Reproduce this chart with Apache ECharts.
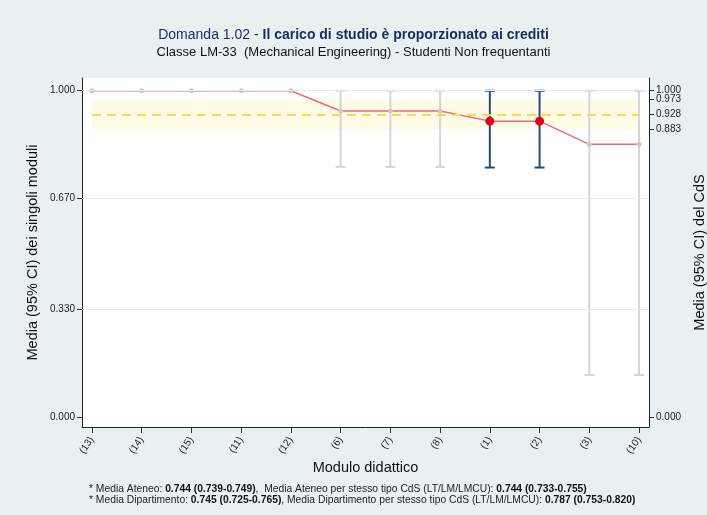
<!DOCTYPE html>
<html>
<head>
<meta charset="utf-8">
<script src="https://cdn.jsdelivr.net/npm/echarts@6/dist/echarts.min.js"></script>
<style>
  html, body { margin: 0; padding: 0; background: #e8f0f2; }
  #chart { width: 707px; height: 515px; }
</style>
</head>
<body>
<div id="chart"></div>
<script>
// Moduli didattici (ordine di visualizzazione)
const moduli = ['(13)', '(14)', '(15)', '(11)', '(12)', '(6)', '(7)', '(8)', '(1)', '(2)', '(3)', '(10)'];
// Media del singolo modulo e intervallo di confidenza al 95%
const medie  = [1.000, 1.000, 1.000, 1.000, 1.000, 0.938, 0.938, 0.938, 0.907, 0.907, 0.836, 0.836];
const ciLow  = [1.000, 1.000, 1.000, 1.000, 1.000, 0.767, 0.767, 0.767, 0.765, 0.765, 0.130, 0.130];
const ciHigh = [1.000, 1.000, 1.000, 1.000, 1.000, 1.000, 1.000, 1.000, 1.000, 1.000, 1.000, 1.000];
// Moduli con differenza significativa rispetto al CdS
const significativo = [false, false, false, false, false, false, false, false, true, true, false, false];
// Media del CdS e relativo intervallo
const cdsMedia = 0.928;
const cdsLow = 0.883;
const cdsHigh = 0.973;
// Valori delle tacche sugli assi
const tickSinistra = [0, 0.33, 0.67, 1];
const tickDestra = [0, 0.883, 0.928, 0.973, 1];
const griglia = [0.33, 0.67, 1];
const indici = moduli.map((m, i) => i);

// Le etichette 0.973 e 1.000 sono molto vicine: 0.973 va su un asse destro a parte
const tickDestraA = tickDestra.filter(v => v !== cdsHigh);
const tickDestraB = tickDestra.filter(v => v === cdsHigh);

const FONT = 'Liberation Sans, Arial, sans-serif';
const chart = echarts.init(document.getElementById('chart'), null, { renderer: 'canvas' });

const yComune = {
  type: 'value',
  min: -0.029,
  max: 1.039,
  splitLine: { show: false },
  axisLine: { show: true, onZero: false, lineStyle: { color: '#222', width: 1 } },
  nameLocation: 'middle',
  nameRotate: 90,
  nameMoveOverlap: false,
  nameTextStyle: { fontFamily: FONT, fontSize: 14.5, color: '#111' }
};

const tacche = valori => ({ show: true, length: 5, customValues: valori, lineStyle: { color: '#333' } });
const etichetteY = valori => ({
  customValues: valori,
  margin: 7,
  hideOverlap: false,
  showMinLabel: true,
  showMaxLabel: true,
  fontFamily: FONT, fontSize: 10, color: '#222',
  formatter: v => v.toFixed(3)
});

chart.setOption({
  backgroundColor: '#e8f0f2',
  animation: false,
  title: [
    {
      text: '{n|Domanda 1.02 - }{b|Il carico di studio è proporzionato ai crediti}',
      subtext: 'Classe LM-33  (Mechanical Engineering) - Studenti Non frequentanti',
      left: 'center',
      top: 23,
      itemGap: 4,
      textStyle: {
        fontWeight: 'normal',
        rich: {
          n: { fontFamily: FONT, fontSize: 14, fontWeight: 'normal', color: '#1d2a5c' },
          b: { fontFamily: FONT, fontSize: 14, fontWeight: 'bold', color: '#1d2a5c' }
        }
      },
      subtextStyle: { fontFamily: FONT, fontSize: 13, color: '#111' }
    },
    {
      text: '* Media Ateneo: {b|0.744 (0.739-0.749)},  Media Ateneo per stesso tipo CdS (LT/LM/LMCU): {b|0.744 (0.733-0.755)}',
      left: 84,
      top: 479,
      textStyle: {
        fontFamily: FONT, fontSize: 10.3, fontWeight: 'normal', color: '#222',
        rich: { b: { fontFamily: FONT, fontSize: 10.3, fontWeight: 'bold', color: '#111' } }
      }
    },
    {
      text: '* Media Dipartimento: {b|0.745 (0.725-0.765)}, Media Dipartimento per stesso tipo CdS (LT/LM/LMCU): {b|0.787 (0.753-0.820)}',
      left: 84,
      top: 490,
      textStyle: {
        fontFamily: FONT, fontSize: 10.3, fontWeight: 'normal', color: '#222',
        rich: { b: { fontFamily: FONT, fontSize: 10.3, fontWeight: 'bold', color: '#111' } }
      }
    }
  ],
  grid: {
    left: 82, right: 58, top: 78, bottom: 88,
    containLabel: false,
    outerBoundsMode: 'none',
    show: true, backgroundColor: '#ffffff', borderWidth: 0
  },
  xAxis: {
    type: 'value',
    min: -0.2,
    max: 11.2,
    name: 'Modulo didattico',
    nameLocation: 'middle',
    nameGap: 33,
    nameMoveOverlap: false,
    nameTextStyle: { fontFamily: FONT, fontSize: 14.5, color: '#111' },
    splitLine: { show: false },
    axisLine: { show: true, onZero: false, lineStyle: { color: '#222', width: 1 } },
    axisTick: { show: true, length: 6, customValues: indici, lineStyle: { color: '#333' } },
    axisLabel: {
      customValues: indici,
      rotate: 55,
      margin: 11,
      fontFamily: FONT, fontSize: 10, color: '#222',
      formatter: v => moduli[Math.round(v)]
    }
  },
  yAxis: [
    Object.assign({}, yComune, {
      position: 'left',
      name: 'Media (95% CI) dei singoli moduli',
      nameGap: 42,
      axisTick: tacche(tickSinistra),
      axisLabel: etichetteY(tickSinistra)
    }),
    Object.assign({}, yComune, {
      position: 'right',
      name: 'Media (95% CI) del CdS',
      nameGap: 43,
      axisTick: tacche(tickDestraA),
      axisLabel: etichetteY(tickDestraA)
    }),
    Object.assign({}, yComune, {
      position: 'right',
      name: '',
      axisLine: { show: false, onZero: false },
      axisTick: tacche(tickDestraB),
      axisLabel: etichetteY(tickDestraB)
    })
  ],
  series: [
    {
      // Griglia orizzontale, fascia e media del CdS
      type: 'line',
      data: [],
      silent: true,
      z: 1,
      markArea: {
        silent: true,
        itemStyle: { color: '#fffbe4' },
        data: [[{ coord: [0, cdsLow] }, { coord: [11, cdsHigh] }]]
      },
      markLine: {
        silent: true,
        symbol: 'none',
        label: { show: false },
        data: griglia.map(v => ({ yAxis: v, lineStyle: { color: '#e2ecef', width: 1, type: 'solid' } }))
          .concat([[
            { coord: [0, cdsMedia], lineStyle: { color: '#ffd84f', width: 2, type: [9, 6] } },
            { coord: [11, cdsMedia] }
          ]])
      }
    },
    {
      // Intervalli di confidenza dei moduli
      type: 'custom',
      z: 2,
      silent: true,
      data: indici.map(i => [i, ciLow[i], ciHigh[i], significativo[i] ? 1 : 0]),
      renderItem: (params, api) => {
        const i = api.value(0), lo = api.value(1), hi = api.value(2);
        if (lo === hi) return { type: 'group', children: [] };
        const col = api.value(3) ? '#1f4e7c' : '#d5d5d5';
        const pLo = api.coord([i, lo]);
        const pHi = api.coord([i, hi]);
        const w = 5;
        const st = { stroke: col, lineWidth: 2 };
        return {
          type: 'group',
          children: [
            { type: 'line', shape: { x1: pLo[0], y1: pLo[1], x2: pHi[0], y2: pHi[1] }, style: st },
            { type: 'line', shape: { x1: pLo[0] - w, y1: pLo[1], x2: pLo[0] + w, y2: pLo[1] }, style: st },
            { type: 'line', shape: { x1: pHi[0] - w, y1: pHi[1], x2: pHi[0] + w, y2: pHi[1] }, style: st }
          ]
        };
      }
    },
    {
      // Medie dei moduli
      type: 'line',
      z: 3,
      silent: true,
      symbol: 'circle',
      lineStyle: { color: '#ea6b7b', width: 1.5 },
      data: indici.map(i => ({
        value: [i, medie[i]],
        symbolSize: significativo[i] ? 9 : 5,
        itemStyle: { color: significativo[i] ? '#e2001c' : '#c9c9c9' }
      }))
    }
  ]
});
</script>
</body>
</html>
